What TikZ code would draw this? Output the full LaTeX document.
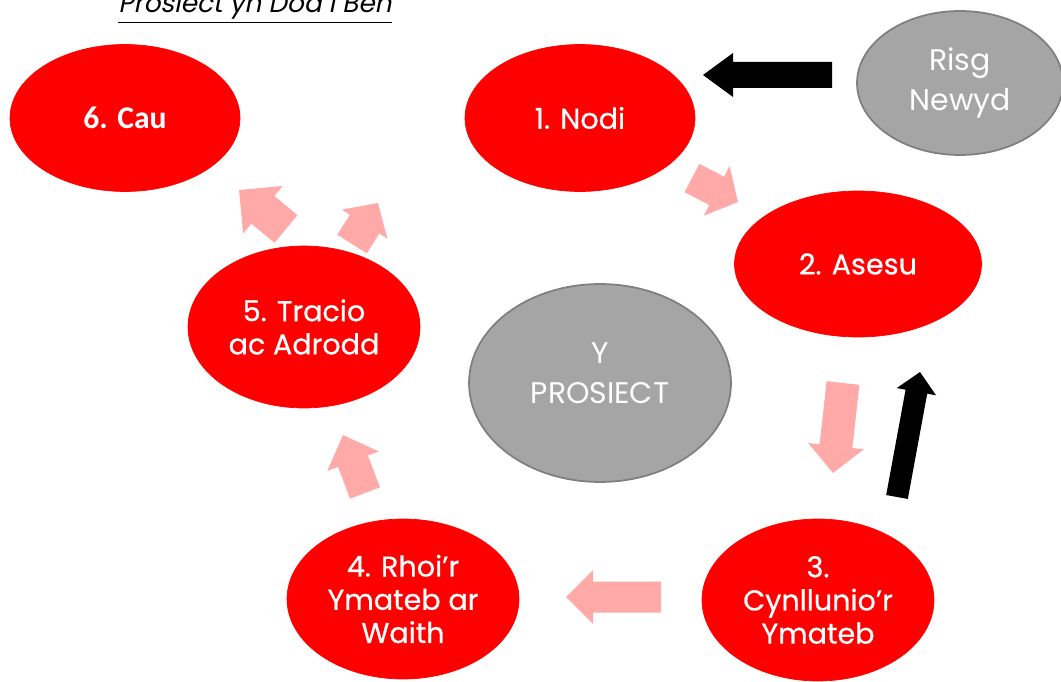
\documentclass[tikz,border=0pt]{standalone}
\usepackage{fontspec}
\setmainfont{Poppins}
\newfontfamily\titlefont[FakeSlant=0.2]{Poppins}
\newfontfamily\medfont[FakeBold=0.6]{Poppins}
\newfontfamily\calfont{Carlito}
\usetikzlibrary{calc,shapes.geometric}
\definecolor{pinkarrow}{HTML}{FFA9A9}
\definecolor{grayfill}{HTML}{A5A5A5}
\definecolor{grayline}{HTML}{7F7F7F}
\def\pxpt{0.5690551}
% #1 style, #2 tail coordinate, #3 tip coordinate, #4 shaft half width (px), #5 head half width (px), #6 head length (px)
\newcommand\blockarrow[6]{%
  \path let \p1=(#2), \p2=(#3) in \pgfextra{%
    \pgfmathsetmacro\baang{atan2(\y2-\y1,\x2-\x1)}%
    \pgfmathsetmacro\balen{veclen(\x2-\x1,\y2-\y1)}%
    \global\let\baang\baang \global\let\balen\balen};
  \begin{scope}[shift={(#2)},rotate=\baang]
    \pgfmathsetmacro\bas{#4*\pxpt}%
    \pgfmathsetmacro\bah{#5*\pxpt}%
    \pgfmathsetmacro\bab{\balen-#6*\pxpt}%
    \fill[#1] (0pt,-\bas pt) -- (\bab pt,-\bas pt) -- (\bab pt,-\bah pt) -- (\balen pt,0pt)
      -- (\bab pt,\bah pt) -- (\bab pt,\bas pt) -- (0pt,\bas pt) -- cycle;
  \end{scope}}
\tikzset{
  redell/.style={ellipse, fill=red, draw=red, inner sep=0pt, text=white, align=center,
    font=\medfont\fontsize{16.3}{18.9}\selectfont},
  grayell/.style={ellipse, fill=grayfill, draw=grayline, line width=1pt, inner sep=0pt, text=white, align=center,
    font=\fontsize{17}{22.5}\selectfont},
  pinkarr/.style={fill=pinkarrow},
  blackarr/.style={fill=black}
}
\begin{document}
\begin{tikzpicture}[x=0.02cm,y=-0.02cm]
\useasboundingbox (0,0) rectangle (1061,682);
% arrows
\coordinate (a1s) at (832,75);  \coordinate (a1e) at (703,75);
\coordinate (a2s) at (692,178); \coordinate (a2e) at (738,202);
\coordinate (a3s) at (843,383); \coordinate (a3e) at (833,473);
\coordinate (a4s) at (897,497); \coordinate (a4e) at (920,372);
\coordinate (a5s) at (661,597); \coordinate (a5e) at (566,597);
\coordinate (a6s) at (365,493); \coordinate (a6e) at (343,435);
\coordinate (a7s) at (286,229); \coordinate (a7e) at (239,190);
\coordinate (a8s) at (352,244); \coordinate (a8e) at (378,203);
\blockarrow{blackarr}{a1s}{a1e}{13}{22}{30}
\blockarrow{pinkarr}{a2s}{a2e}{16}{28}{24}
\blockarrow{pinkarr}{a3s}{a3e}{16.5}{28}{27}
\blockarrow{blackarr}{a4s}{a4e}{11}{20}{20}
\blockarrow{pinkarr}{a5s}{a5e}{15.5}{27}{27}
\blockarrow{pinkarr}{a6s}{a6e}{16}{27.5}{28}
\blockarrow{pinkarr}{a7s}{a7e}{18}{31}{31}
\blockarrow{pinkarr}{a8s}{a8e}{17.5}{27}{25}
% ellipses
\node[redell, minimum width=4.6cm, minimum height=2.94cm, font=\calfont\bfseries\fontsize{18}{20}\selectfont] (e6) at (125,118) {6. Cau};
\node[redell, minimum width=4.6cm, minimum height=2.94cm] (e1) at (580,118) {1. Nodi};
\node[grayell, minimum width=4.12cm, minimum height=2.88cm] (risk) at (960,83) {Risg\\Newyd};
\node[redell, minimum width=4.94cm, minimum height=2.92cm] (e2) at (858,264) {2. Asesu};
\node[redell, minimum width=4.64cm, minimum height=3.24cm] (e5) at (304,327) {5. Tracio\\ac Adrodd};
\node[grayell, minimum width=5.24cm, minimum height=3.96cm] (proj) at (600,383) {};
\node[font=\fontsize{17}{22.5}\selectfont, text=white, align=center] (projtext) at (600,373) {Y\\PROSIECT};
\node[redell, minimum width=4.64cm, minimum height=3.2cm] (e4) at (403,599) {4. Rhoi’r\\Ymateb ar\\Waith};
\node[redell, minimum width=4.64cm, minimum height=3.24cm] (e3) at (818,600) {3.\\Cynllunio’r\\Ymateb};
% title
\node[font=\titlefont\fontsize{15}{17}\selectfont, anchor=base] (title) at (255,13) {\underline{Prosiect yn Dod i Ben}};
\end{tikzpicture}
\end{document}
